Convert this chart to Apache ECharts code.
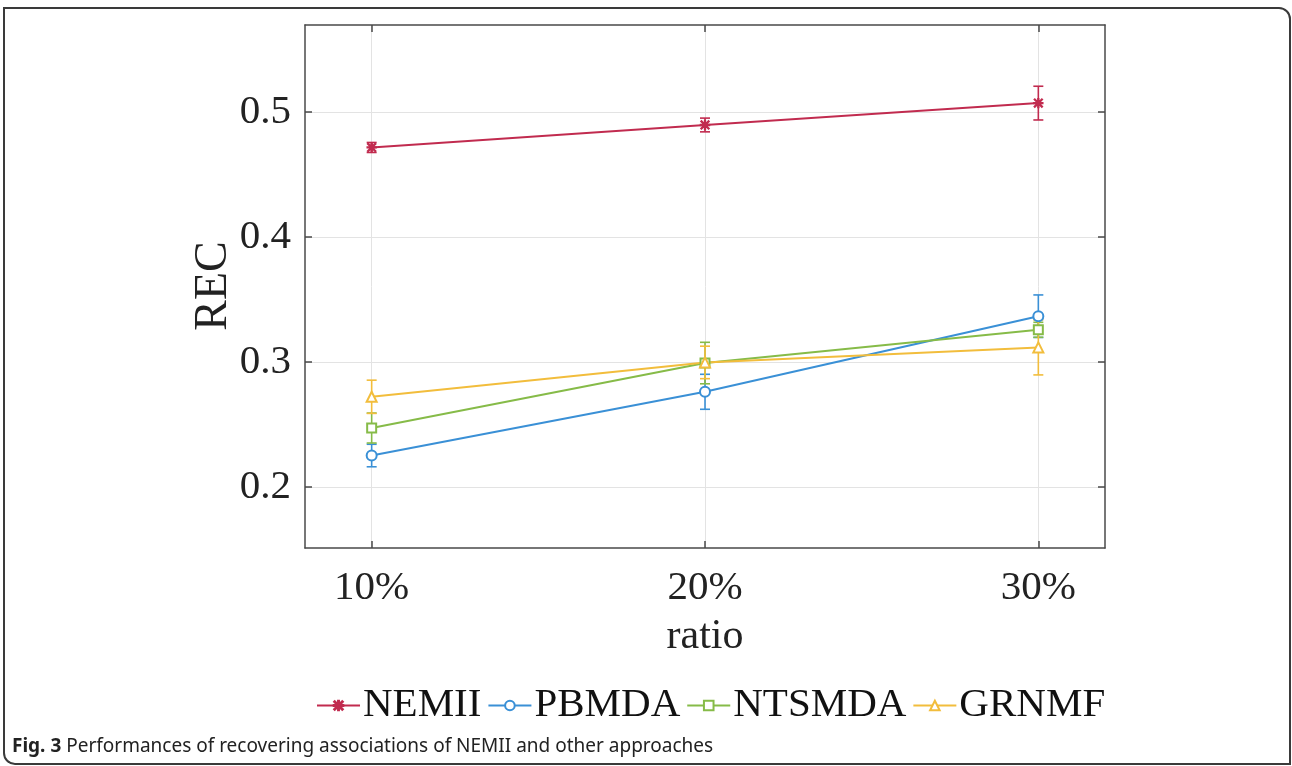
<!DOCTYPE html>
<html>
<head>
<meta charset="utf-8">
<title>REC vs ratio</title>
<script src="https://cdn.jsdelivr.net/npm/echarts@6/dist/echarts.min.js"></script>
<style>
    html, body { margin: 0; padding: 0; background: #ffffff; }
    #frame {
        position: absolute; left: 3px; top: 7px; width: 1288px; height: 758px;
        border: 2px solid #3a3a3a; border-radius: 0 12px 0 12px; box-sizing: border-box;
    }
    #chart { position: absolute; left: 0; top: 0; width: 1292px; height: 766px; }
</style>
</head>
<body>
<div id="frame"></div>
<div id="chart"></div>
<script>
// ratio (%) on the x axis
var ratios = [10, 20, 30];
var xTicks = [10, 20, 30];
var yTicks = [0.2, 0.3, 0.4, 0.5];

// REC means and error half-widths
var nemii = [0.4715, 0.4895, 0.507];
var nemiiErr = [0.004, 0.0055, 0.0135];
var pbmda = [0.225, 0.276, 0.3365];
var pbmdaErr = [0.009, 0.014, 0.017];
var ntsmda = [0.247, 0.299, 0.3256];
var ntsmdaErr = [0.012, 0.0166, 0.006];
var grnmf = [0.272, 0.2995, 0.3115];
var grnmfErr = [0.0133, 0.013, 0.022];

var names = ["NEMII", "PBMDA", "NTSMDA", "GRNMF"];
var colors = ["#c12b4f", "#3a90d6", "#86bb48", "#f2bd3c"];

var starPath = "path://M4.5,0L5.5,0L5.5,10L4.5,10Z M0,4.5L10,4.5L10,5.5L0,5.5Z " +
    "M1.1,0.4L9.6,8.9L8.9,9.6L0.4,1.1Z M8.9,0.4L9.6,1.1L1.1,9.6L0.4,8.9Z";

var serif = "Liberation Serif";
var axisColor = "#4a4a4a";

function lineSeries(name, values, color, symbol, size) {
    return {
        name: name,
        type: "line",
        data: ratios.map(function(r, i) { return [r, values[i]]; }),
        symbol: symbol,
        symbolSize: size,
        color: color,
        lineStyle: { width: 2, color: color },
        itemStyle: { color: color, borderColor: color, borderWidth: 1.4 },
        z: 4
    };
}

function errorSeries(name, values, errs, color) {
    return {
        name: name + " error",
        type: "custom",
        data: ratios.map(function(r, i) {
            return [r, values[i] - errs[i], values[i] + errs[i]];
        }),
        encode: { x: 0, y: [1, 2] },
        renderItem: function(params, api) {
            var lo = api.coord([api.value(0), api.value(1)]);
            var hi = api.coord([api.value(0), api.value(2)]);
            var w = 5;
            var style = { stroke: color, lineWidth: 1.6 };
            return {
                type: "group",
                children: [
                    { type: "line", shape: { x1: lo[0], y1: lo[1], x2: hi[0], y2: hi[1] }, style: style },
                    { type: "line", shape: { x1: lo[0] - w, y1: lo[1], x2: lo[0] + w, y2: lo[1] }, style: style },
                    { type: "line", shape: { x1: hi[0] - w, y1: hi[1], x2: hi[0] + w, y2: hi[1] }, style: style }
                ]
            };
        },
        z: 3
    };
}

function xAxisDef(pos, labels) {
    return {
        type: "value",
        position: pos,
        min: 8,
        max: 32,
        axisLine: { show: true, onZero: false, lineStyle: { color: axisColor, width: 1.5 } },
        axisTick: { show: true, inside: true, length: 7, customValues: xTicks, lineStyle: { color: axisColor, width: 1.5 } },
        axisLabel: {
            show: labels,
            customValues: xTicks,
            margin: 20,
            formatter: function(v) { return v + "%"; },
            fontFamily: serif, fontSize: 41, color: "#222"
        },
        splitLine: { show: labels, lineStyle: { color: "#e3e3e3", width: 1 } }
    };
}

function yAxisDef(pos, labels) {
    return {
        type: "value",
        position: pos,
        min: 0.151,
        max: 0.5695,
        axisLine: { show: true, onZero: false, lineStyle: { color: axisColor, width: 1.5 } },
        axisTick: { show: true, inside: true, length: 7, customValues: yTicks, lineStyle: { color: axisColor, width: 1.5 } },
        axisLabel: {
            show: labels,
            customValues: yTicks,
            margin: 14,
            formatter: function(v) { return v.toFixed(1); },
            fontFamily: serif, fontSize: 41, color: "#222"
        },
        splitLine: { show: labels, lineStyle: { color: "#e3e3e3", width: 1 } }
    };
}

var chart = echarts.init(document.getElementById("chart"));

var xMain = xAxisDef("bottom", true);
xMain.name = "ratio";
xMain.nameLocation = "middle";
xMain.nameGap = 68;
xMain.nameTextStyle = { fontFamily: serif, fontSize: 42, color: "#222" };

var option = {
    backgroundColor: "transparent",
    animation: false,
    grid: { left: 305, top: 25, width: 800, height: 523, containLabel: false },
    xAxis: [xMain, xAxisDef("top", false)],
    yAxis: [yAxisDef("left", true), yAxisDef("right", false)],
    legend: {
        data: names,
        left: 311,
        top: 680,
        itemWidth: 43,
        itemHeight: 12,
        itemGap: 6,
        textStyle: { fontFamily: serif, fontSize: 41, color: "#111", padding: [0, 0, 0, -2] }
    },
    graphic: [
        {
            // y axis title
            type: "text",
            x: 214,
            y: 286,
            rotation: Math.PI / 2,
            style: {
                text: "REC",
                fontFamily: serif,
                fontSize: 46,
                fill: "#222",
                align: "center",
                verticalAlign: "middle"
            }
        },
        {
            type: "text",
            left: 12,
            top: 737,
            style: {
                text: "{b|Fig. 3} Performances of recovering associations of NEMII and other approaches",
                fontFamily: "Noto Sans",
                fontSize: 19,
                fill: "#222",
                rich: {
                    b: { fontFamily: "Noto Sans", fontSize: 19, fontWeight: "bold", fill: "#222" }
                }
            }
        }
    ],
    series: [
        errorSeries(names[0], nemii, nemiiErr, colors[0]),
        errorSeries(names[1], pbmda, pbmdaErr, colors[1]),
        errorSeries(names[2], ntsmda, ntsmdaErr, colors[2]),
        errorSeries(names[3], grnmf, grnmfErr, colors[3]),
        lineSeries(names[0], nemii, colors[0], starPath, 9),
        lineSeries(names[1], pbmda, colors[1], "emptyCircle", 10),
        lineSeries(names[2], ntsmda, colors[2], "emptyRect", 9),
        lineSeries(names[3], grnmf, colors[3], "emptyTriangle", 10)
    ]
};

chart.setOption(option);
</script>
</body>
</html>
